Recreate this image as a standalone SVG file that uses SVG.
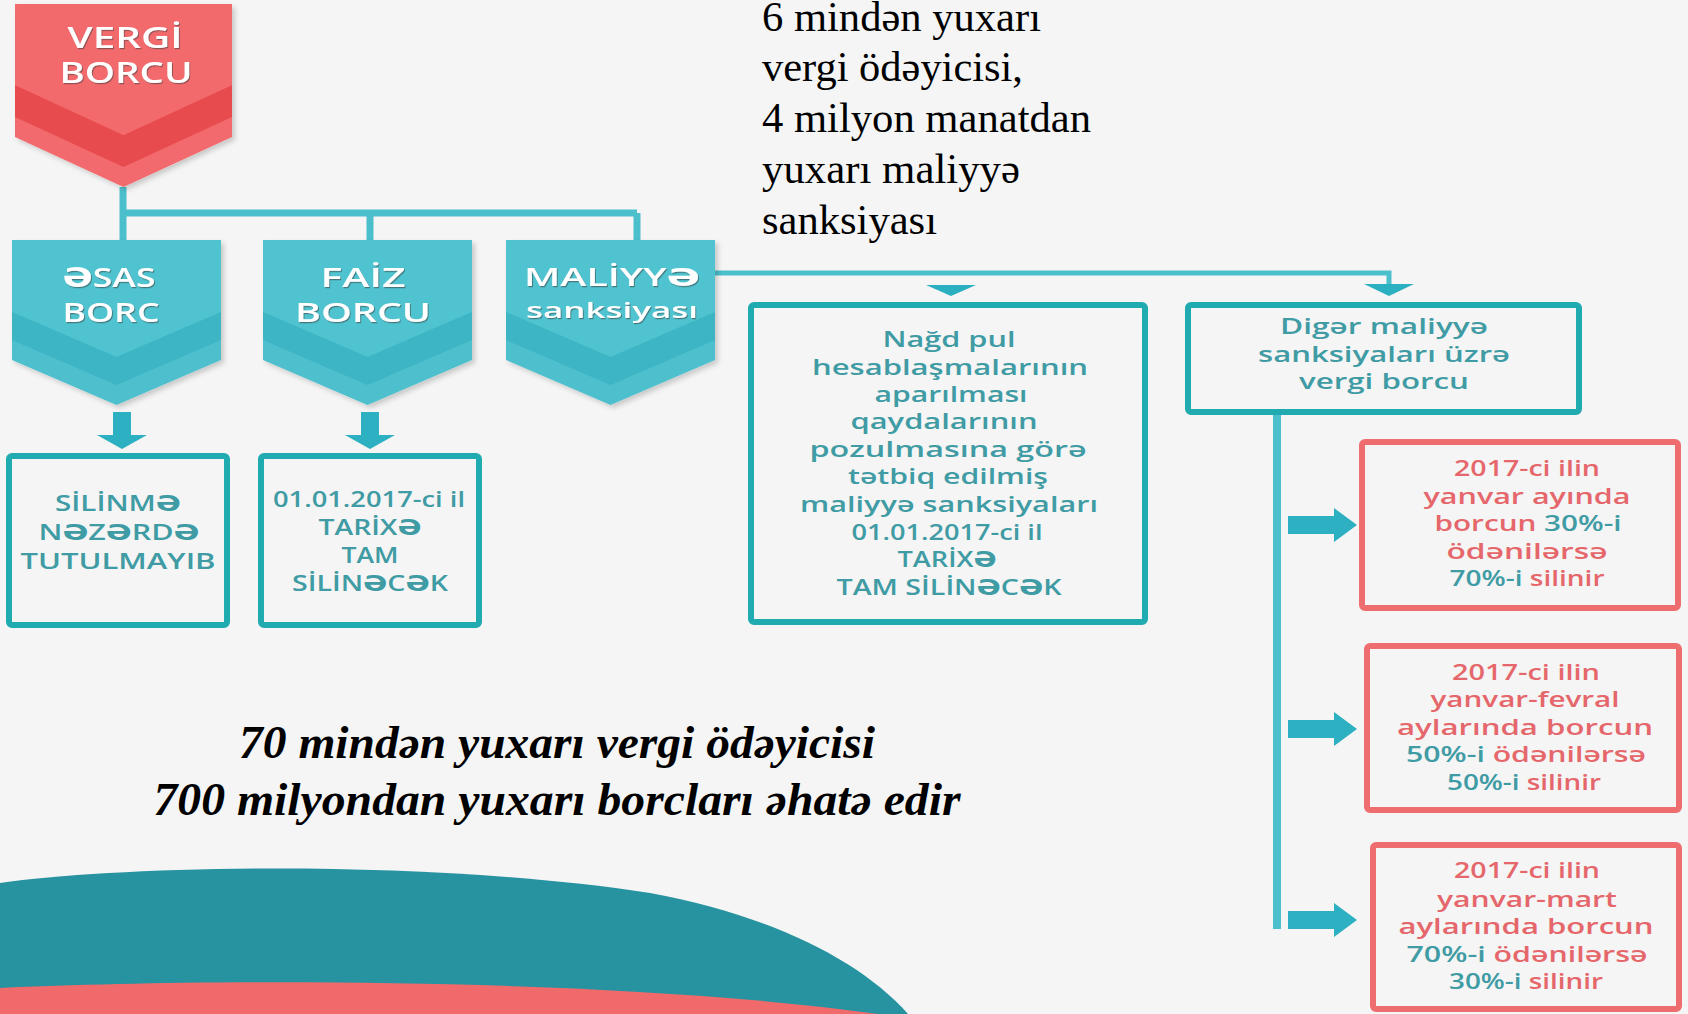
<svg xmlns="http://www.w3.org/2000/svg" width="1688" height="1014" viewBox="0 0 1688 1014">
<defs>
<filter id="sh" x="-10%" y="-10%" width="130%" height="130%"><feDropShadow dx="3" dy="3" stdDeviation="2.5" flood-color="#000" flood-opacity="0.18"/></filter>
<filter id="tsh" x="-10%" y="-20%" width="120%" height="150%"><feDropShadow dx="1" dy="1.2" stdDeviation="0.7" flood-color="#3a3a3a" flood-opacity="0.55"/></filter>
<style>
.hd{font-family:"Open Sans","DejaVu Sans",sans-serif;font-weight:600;fill:#ffffff;text-anchor:middle}
.bt{font-family:"Open Sans","DejaVu Sans",sans-serif;font-weight:600;font-size:21px;fill:#3f9ba4;text-anchor:middle}
.rt{font-family:"Open Sans","DejaVu Sans",sans-serif;font-weight:600;font-size:21px;fill:#e5676b;text-anchor:middle}
.tc{fill:#3f9ba4}
.tbox{fill:none;stroke:#20abb0;stroke-width:6}
.rbox{fill:none;stroke:#ee6e70;stroke-width:6}
.conn{fill:none;stroke:#4cbfcc}
.arr{fill:#2db0c1}
.ser{font-family:"Liberation Serif","Times New Roman",serif;font-size:42px;fill:#000}
.big{font-family:"Liberation Serif","Times New Roman",serif;font-size:47px;font-weight:bold;font-style:italic;fill:#000;text-anchor:middle}
</style>
</defs>
<rect width="1688" height="1014" fill="#f5f5f5"/>

<!-- bottom decorative arcs -->
<path d="M0 883 C120 866 420 858 650 893 C770 915 860 960 908 1014 L0 1014 Z" fill="#2792a0"/>
<path d="M0 988 C220 978 620 978 878 1014 L0 1014 Z" fill="#f16a6b"/>

<!-- connectors -->
<g id="connectors">
<path class="conn" stroke-width="7" d="M123 187 V240 M123 213 H637 M370 213 V240 M637 213 V240"/>
<path class="conn" stroke-width="5" d="M715 273 H1389 V285"/>
<polygon fill="#2ab0c0" points="1364,284 1414,284 1389,296"/>
<polygon fill="#2ab0c0" points="926,285 976,285 951,296"/>
<path class="arr" d="M113 412 H131 V435 H147 L122 449 L97 435 H113 Z"/>
<path class="arr" d="M361 412 H379 V435 H395 L370 449 L345 435 H361 Z"/>
<path class="conn" stroke-width="8" d="M1277 415 V929"/>
<path class="arr" d="M1288 516 H1334 V508 L1357 525 L1334 542 V534 H1288 Z"/>
<path class="arr" d="M1288 720 H1334 V712 L1357 729 L1334 746 V738 H1288 Z"/>
<path class="arr" d="M1288 911 H1334 V903 L1357 920 L1334 937 V929 H1288 Z"/>
</g>

<!-- VERGI BORCU -->
<g id="vergi-borcu">
<g filter="url(#sh)">
<polygon points="15,4 232,4 232,137 123.5,187 15,137" fill="#f26b6d"/>
<polygon points="15,85 123.5,135 232,85 232,117 123.5,167 15,117" fill="#e84b4d"/>
<polygon points="15,4 232,4 232,85 123.5,135 15,85" fill="#f36a6d"/>
</g>
<g filter="url(#tsh)">
<text class="hd" x="125" y="48" font-size="28" textLength="115" lengthAdjust="spacingAndGlyphs">VERGİ</text>
<text class="hd" x="126" y="83" font-size="28" textLength="133" lengthAdjust="spacingAndGlyphs">BORCU</text>
</g>
</g>

<!-- ESAS BORC -->
<g id="esas-borc">
<g filter="url(#sh)">
<polygon points="12,240 221,240 221,360 116.5,405 12,360" fill="#4dbfcd"/>
<polygon points="12,240 221,240 221,312 116.5,357 12,312" fill="#50c3cf"/>
<polygon points="12,312 116.5,357 221,312 221,340 116.5,385 12,340" fill="#3cb5c4"/>
</g>
<g filter="url(#tsh)">
<text class="hd" x="109" y="287" font-size="27" textLength="93" lengthAdjust="spacingAndGlyphs">ƏSAS</text>
<text class="hd" x="111" y="322" font-size="27" textLength="97" lengthAdjust="spacingAndGlyphs">BORC</text>
</g>
</g>

<!-- FAIZ BORCU -->
<g id="faiz-borcu">
<g filter="url(#sh)">
<polygon points="263,240 472,240 472,360 367.5,405 263,360" fill="#4dbfcd"/>
<polygon points="263,240 472,240 472,312 367.5,357 263,312" fill="#50c3cf"/>
<polygon points="263,312 367.5,357 472,312 472,340 367.5,385 263,340" fill="#3cb5c4"/>
</g>
<g filter="url(#tsh)">
<text class="hd" x="363" y="287" font-size="27" textLength="85" lengthAdjust="spacingAndGlyphs">FAİZ</text>
<text class="hd" x="363" y="322" font-size="27" textLength="136" lengthAdjust="spacingAndGlyphs">BORCU</text>
</g>
</g>

<!-- MALIYYE sanksiyasi -->
<g id="maliyye-sanksiyasi">
<g filter="url(#sh)">
<polygon points="506,240 715,240 715,360 610.5,405 506,360" fill="#4dbfcd"/>
<polygon points="506,240 715,240 715,312 610.5,357 506,312" fill="#50c3cf"/>
<polygon points="506,312 610.5,357 715,312 715,340 610.5,385 506,340" fill="#3cb5c4"/>
</g>
<g filter="url(#tsh)">
<text class="hd" x="612" y="286" font-size="25" textLength="176" lengthAdjust="spacingAndGlyphs">MALİYYƏ</text>
<text class="hd" x="612" y="318" font-size="22" textLength="172" lengthAdjust="spacingAndGlyphs">sanksiyası</text>
</g>
</g>

<!-- SILINME box -->
<g id="silinme">
<rect class="tbox" x="9" y="456" width="218" height="169" rx="3"/>
<text class="bt" x="118" y="511" textLength="126" lengthAdjust="spacingAndGlyphs">SİLİNMƏ</text>
<text class="bt" x="119" y="540" textLength="161" lengthAdjust="spacingAndGlyphs">NƏZƏRDƏ</text>
<text class="bt" x="118" y="569" textLength="195" lengthAdjust="spacingAndGlyphs">TUTULMAYIB</text>
</g>

<!-- 01.01.2017 box -->
<g id="faiz-silinecek">
<rect class="tbox" x="261" y="456" width="218" height="169" rx="3"/>
<text class="bt" x="369" y="507" textLength="192" lengthAdjust="spacingAndGlyphs">01.01.2017-ci il</text>
<text class="bt" x="370" y="535" textLength="103" lengthAdjust="spacingAndGlyphs">TARİXƏ</text>
<text class="bt" x="370" y="563" textLength="57" lengthAdjust="spacingAndGlyphs">TAM</text>
<text class="bt" x="370" y="591" textLength="156" lengthAdjust="spacingAndGlyphs">SİLİNƏCƏK</text>
</g>

<!-- Nagd pul box -->
<g id="nagd-pul">
<rect class="tbox" x="751" y="305" width="394" height="317" rx="3"/>
<text class="bt" x="949" y="347" textLength="133" lengthAdjust="spacingAndGlyphs">Nağd pul</text>
<text class="bt" x="950" y="375" textLength="276" lengthAdjust="spacingAndGlyphs">hesablaşmalarının</text>
<text class="bt" x="951" y="402" textLength="153" lengthAdjust="spacingAndGlyphs">aparılması</text>
<text class="bt" x="944" y="429" textLength="187" lengthAdjust="spacingAndGlyphs">qaydalarının</text>
<text class="bt" x="948" y="457" textLength="277" lengthAdjust="spacingAndGlyphs">pozulmasına görə</text>
<text class="bt" x="948" y="484" textLength="200" lengthAdjust="spacingAndGlyphs">tətbiq edilmiş</text>
<text class="bt" x="949" y="512" textLength="298" lengthAdjust="spacingAndGlyphs">maliyyə sanksiyaları</text>
<text class="bt" x="947" y="540" textLength="191" lengthAdjust="spacingAndGlyphs">01.01.2017-ci il</text>
<text class="bt" x="947" y="567" textLength="99" lengthAdjust="spacingAndGlyphs">TARİXƏ</text>
<text class="bt" x="949" y="595" textLength="225" lengthAdjust="spacingAndGlyphs">TAM SİLİNƏCƏK</text>
</g>

<!-- Diger box -->
<g id="diger">
<rect class="tbox" x="1188" y="305" width="391" height="107" rx="3"/>
<text class="bt" x="1384" y="334" textLength="208" lengthAdjust="spacingAndGlyphs">Digər maliyyə</text>
<text class="bt" x="1384" y="362" textLength="252" lengthAdjust="spacingAndGlyphs">sanksiyaları üzrə</text>
<text class="bt" x="1384" y="389" textLength="170" lengthAdjust="spacingAndGlyphs">vergi borcu</text>
</g>

<!-- red box 1 -->
<g id="yanvar">
<rect class="rbox" x="1362" y="442" width="316" height="166" rx="3"/>
<text class="rt" x="1527" y="476" textLength="146" lengthAdjust="spacingAndGlyphs">2017-ci ilin</text>
<text class="rt" x="1527" y="504" textLength="207" lengthAdjust="spacingAndGlyphs">yanvar ayında</text>
<text class="rt" x="1528" y="531" textLength="187" lengthAdjust="spacingAndGlyphs">borcun <tspan class="tc">30%-i</tspan></text>
<text class="rt" x="1527" y="559" textLength="161" lengthAdjust="spacingAndGlyphs">ödənilərsə</text>
<text class="rt" x="1527" y="586" textLength="155" lengthAdjust="spacingAndGlyphs"><tspan class="tc">70%-i</tspan> silinir</text>
</g>

<!-- red box 2 -->
<g id="yanvar-fevral">
<rect class="rbox" x="1367" y="646" width="312" height="164" rx="3"/>
<text class="rt" x="1526" y="680" textLength="148" lengthAdjust="spacingAndGlyphs">2017-ci ilin</text>
<text class="rt" x="1525" y="707" textLength="189" lengthAdjust="spacingAndGlyphs">yanvar-fevral</text>
<text class="rt" x="1525" y="735" textLength="256" lengthAdjust="spacingAndGlyphs">aylarında borcun</text>
<text class="rt" x="1526" y="762" textLength="240" lengthAdjust="spacingAndGlyphs"><tspan class="tc">50%-i</tspan> ödənilərsə</text>
<text class="rt" x="1524" y="790" textLength="154" lengthAdjust="spacingAndGlyphs"><tspan class="tc">50%-i</tspan> silinir</text>
</g>

<!-- red box 3 -->
<g id="yanvar-mart">
<rect class="rbox" x="1373" y="845" width="306" height="164" rx="3"/>
<text class="rt" x="1527" y="878" textLength="146" lengthAdjust="spacingAndGlyphs">2017-ci ilin</text>
<text class="rt" x="1527" y="907" textLength="180" lengthAdjust="spacingAndGlyphs">yanvar-mart</text>
<text class="rt" x="1526" y="934" textLength="255" lengthAdjust="spacingAndGlyphs">aylarında borcun</text>
<text class="rt" x="1527" y="962" textLength="241" lengthAdjust="spacingAndGlyphs"><tspan class="tc">70%-i</tspan> ödənilərsə</text>
<text class="rt" x="1526" y="989" textLength="154" lengthAdjust="spacingAndGlyphs"><tspan class="tc">30%-i</tspan> silinir</text>
</g>

<!-- top right note -->
<g id="note-top">
<text class="ser" x="762" y="31" textLength="279" lengthAdjust="spacingAndGlyphs">6 mindən yuxarı</text>
<text class="ser" x="762" y="81" textLength="261" lengthAdjust="spacingAndGlyphs">vergi ödəyicisi,</text>
<text class="ser" x="762" y="132" textLength="329" lengthAdjust="spacingAndGlyphs">4 milyon manatdan</text>
<text class="ser" x="762" y="183" textLength="258" lengthAdjust="spacingAndGlyphs">yuxarı maliyyə</text>
<text class="ser" x="762" y="234" textLength="175" lengthAdjust="spacingAndGlyphs">sanksiyası</text>
</g>

<!-- bottom note -->
<g id="note-bottom">
<text class="big" x="557" y="758" textLength="636" lengthAdjust="spacingAndGlyphs">70 mindən yuxarı vergi ödəyicisi</text>
<text class="big" x="557" y="815" textLength="807" lengthAdjust="spacingAndGlyphs">700 milyondan yuxarı borcları əhatə edir</text>
</g>
</svg>
